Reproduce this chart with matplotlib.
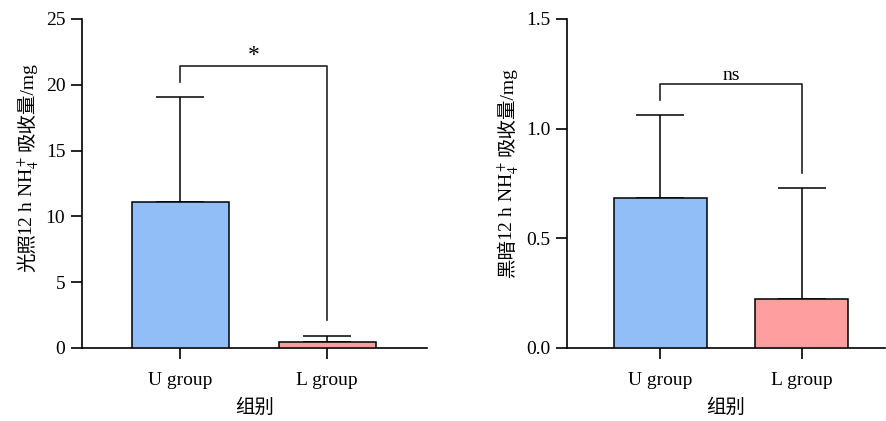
import matplotlib
matplotlib.use('Agg')
import matplotlib.pyplot as plt
from matplotlib.transforms import IdentityTransform

plt.rcParams['font.family'] = ['Liberation Serif', 'Noto Sans CJK SC']
plt.rcParams['mathtext.fontset'] = 'stix'

groups = ['U group', 'L group']
light_mean = [11.1, 0.48]
light_err = [7.95, 0.46]
dark_mean = [0.683, 0.225]
dark_err = [0.378, 0.506]
bar_colors = ['#92BEF8', '#FF9E9E']
light_ticks = [0, 5, 10, 15, 20, 25]
dark_ticks = [0.0, 0.5, 1.0, 1.5]
xlabel = '组别'
light_label = ['光照', '12 h NH$_4^+$', '吸收量/mg']
dark_label = ['黑暗', '12 h NH$_4^+$', '吸收量/mg']
light_sig = '*'
dark_sig = 'ns'
light_bracket = [20.2, 21.45, 2.13]
dark_bracket = [1.13, 1.205, 0.80]

W, H = 886, 421
fig = plt.figure(figsize=(W / 100, H / 100), dpi=100)
ax1 = fig.add_axes([82 / W, 73 / H, (427 - 82) / W, 329 / H])
ax2 = fig.add_axes([567 / W, 73 / H, (885 - 567) / W, 329 / H])

FS = 14


def panel(ax, means, errs, ticks, ticklabels, xlim, capsize, bracket, sig, sig_fs):
    x = list(range(len(means)))
    ax.bar(x, means, width=0.66, color=bar_colors, edgecolor='black', linewidth=1.1,
           zorder=3)
    ax.errorbar(x, means, yerr=[[0] * len(errs), errs], fmt='none', ecolor='black',
                elinewidth=1.1, capsize=capsize, capthick=1.1, zorder=2)
    ax.set_xlim(*xlim)
    ax.set_ylim(ticks[0], ticks[-1])
    ax.set_yticks(ticks)
    ax.set_yticklabels(ticklabels, fontsize=FS)
    ax.set_xticks(x)
    ax.set_xticklabels(groups, fontsize=FS)
    for s in ['top', 'right']:
        ax.spines[s].set_visible(False)
    for s in ['left', 'bottom']:
        ax.spines[s].set_linewidth(1.2)
    ax.tick_params(axis='both', direction='out', length=8, width=1.2, pad=4)
    ax.tick_params(axis='x', pad=9)
    ax.set_xlabel(xlabel, fontsize=FS, labelpad=7)
    yl, yt, yr = bracket
    ax.plot([0, 0, 1, 1], [yl, yt, yt, yr], color='#222222', lw=1.2, clip_on=False,
            zorder=4)
    ax.text(0.5, yt, sig, ha='center', va='bottom', fontsize=sig_fs)


panel(ax1, light_mean, light_err, light_ticks, [str(t) for t in light_ticks],
      (-0.667, 1.68), 17.5, light_bracket, light_sig, 17)
panel(ax2, dark_mean, dark_err, dark_ticks, [f'{t:.1f}' for t in dark_ticks],
      (-0.66, 1.59), 17, dark_bracket, dark_sig, 14)


def stacked_ylabel(parts, x_px, yc_px, gaps):
    texts = []
    for s in parts:
        t = fig.text(0, 0, s, rotation=90, rotation_mode='anchor', ha='left',
                     va='baseline', fontsize=FS, transform=IdentityTransform())
        texts.append(t)
    renderer = fig.canvas.get_renderer()
    hs = [t.get_window_extent(renderer).height for t in texts]
    total = sum(hs) + sum(gaps)
    y = yc_px - total / 2
    for i, (t, h) in enumerate(zip(texts, hs)):
        t.set_position((x_px, y))
        y += h + (gaps[i] if i < len(gaps) else 0)


stacked_ylabel(light_label, 33, H - 167, [-3, 5])
stacked_ylabel(dark_label, 513, H - 172, [-3, 5])

fig.savefig('out.png', dpi=100)
